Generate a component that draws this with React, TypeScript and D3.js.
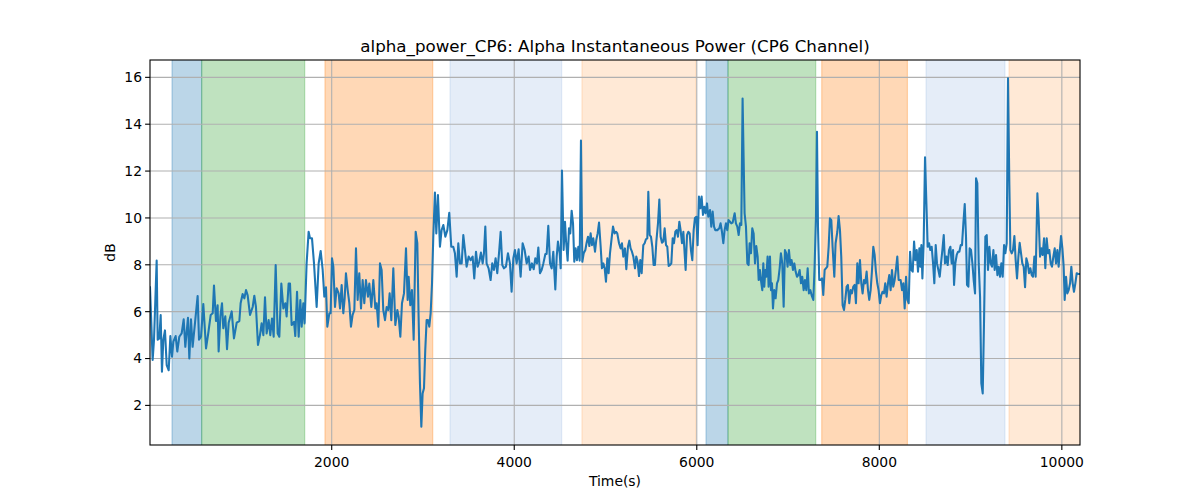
import React from "react";
import * as d3 from "d3";

// ---------- data (time in s, alpha power in dB) ----------
const samplesA: [number, number][] = [
  [9,7.04],[38,3.94],[53,4.8],[82,8.18],[93,4.8],[111,4.86],[126,5.86],[140,3.44],[155,4.8],[173,5.2],
  [192,3.72],[214,3.5],[232,4.96],[250,4.08],[265,4.72],[290,4.96],[308,4.3],[330,4.93],[356,5.07],[378,5.67],
  [396,4.5],[425,5.74],[440,4.0],[458,5.67],[476,4.5],[498,5.36],[531,6.67],[546,4.8],[568,4.93],[593,6.33],
  [623,4.43],[648,5.1],[674,5.86],[696,5.93],[710,7.12],[732,5.6],[750,6.27],[761,4.3],[780,5.8],[798,6.36],
  [812,5.29],[834,5.8],[853,4.4],[871,5.53],[904,6.01],[929,4.86],[959,5.53],[988,5.6],[1002,6.36],[1024,6.75],
  [1043,6.57],[1061,6.92],[1079,6.7],[1105,5.86],[1134,6.2],[1152,6.68],[1170,6.2],[1192,4.58],[1214,5.0],[1232,5.5],
  [1251,5.0],[1269,6.61],[1287,5.07],[1309,5.64],[1327,5.0],[1346,5.71],[1364,4.93],[1386,7.99],[1408,5.07],[1426,4.93],
  [1448,7.2],[1470,6.14],[1492,6.36],[1506,5.8],[1528,7.2],[1543,7.2],[1561,5.43],[1587,5.57],[1601,4.96],[1620,6.85],
  [1638,4.93],[1656,6.5],[1671,5.36],[1689,6.36],[1703,5.5],[1725,8.06],[1747,9.41],[1762,9.13],[1784,9.13],[1806,8.06],
  [1835,6.2],[1857,8.06],[1879,8.59],[1901,7.78],[1919,6.64],[1937,7.04],[1952,5.36],[1974,5.93],[1988,5.93],[2003,8.28],
  [2018,7.92],[2036,6.2],[2054,7.0],[2076,6.78],
];

const samplesB: [number, number][] = [
  [2091,6.14],[2109,7.14],[2127,5.93],[2142,6.57],[2156,7.64],[2175,6.92],[2193,6.36],[2211,5.36],[2229,5.86],[2248,6.07],
  [2266,8.7],[2284,6.5],[2302,7.64],[2321,6.14],[2339,7.35],[2357,6.36],[2375,7.35],[2397,6.64],[2412,7.2],[2434,6.2],
  [2456,7.35],[2478,6.14],[2492,6.36],[2511,5.36],[2529,8.06],[2547,7.78],[2565,6.07],[2584,5.64],[2602,6.2],[2620,6.07],
  [2635,6.78],[2653,5.64],[2675,7.85],[2697,5.43],[2719,6.07],[2733,5.8],[2752,4.93],[2770,6.36],[2792,6.78],[2814,8.7],
  [2832,6.5],[2843,7.49],[2861,6.28],[2879,6.92],[2898,4.8],[2920,9.41],[2938,8.92],[2952,5.8],[2967,2.94],[2982,1.09],
  [2996,2.51],[3011,2.73],[3025,4.36],[3040,5.64],[3055,5.64],[3069,5.36],[3084,5.93],[3099,7.2],[3113,9.2],[3131,11.08],
  [3146,9.34],[3164,10.98],[3186,8.77],[3204,9.48],[3223,9.7],[3245,9.2],[3267,9.48],[3288,10.22],[3310,8.77],[3332,8.77],
  [3350,8.49],[3369,7.49],[3387,8.92],[3405,8.06],[3424,8.06],[3442,9.27],[3460,8.63],[3478,7.92],[3500,8.35],[3522,8.2],
  [3544,8.35],[3562,7.42],[3581,8.56],[3599,7.92],[3617,8.13],[3635,8.52],[3654,8.06],[3668,8.49],[3683,9.63],[3697,8.06],
  [3719,7.85],[3741,7.35],[3759,8.06],[3778,7.78],[3796,8.28],[3814,7.64],[3833,8.49],[3851,9.41],[3869,7.99],[3887,7.85],
  [3909,7.92],[3931,8.49],[3953,8.06],[3971,6.85],[3990,8.28],[4008,8.63],[4026,8.06],[4048,8.66],[4070,7.49],[4092,8.92],
  [4114,8.63],[4136,8.06],[4158,8.35],
];

const samplesC: [number, number][] = [
  [4173,7.78],[4194,8.06],[4213,7.81],[4231,8.28],[4249,8.06],[4264,8.74],[4282,7.64],[4300,7.78],[4319,8.06],[4341,8.46],
  [4355,8.46],[4373,9.66],[4392,8.06],[4410,7.85],[4428,8.56],[4450,6.95],[4465,8.35],[4479,8.99],[4498,8.49],[4509,7.85],
  [4523,12.02],[4541,8.63],[4556,9.84],[4567,9.06],[4585,8.18],[4600,9.56],[4614,9.34],[4629,10.31],[4644,9.77],[4658,8.13],
  [4673,8.7],[4687,8.2],[4702,8.77],[4717,8.18],[4731,13.3],[4746,8.13],[4761,8.49],[4779,8.63],[4793,8.94],[4808,9.2],
  [4823,8.8],[4837,9.34],[4852,8.84],[4866,9.13],[4885,8.56],[4899,9.06],[4914,9.34],[4929,9.8],[4947,8.77],[4961,7.85],
  [4976,8.06],[4991,7.85],[5005,7.28],[5020,8.28],[5034,7.64],[5049,8.49],[5067,9.13],[5082,9.63],[5100,9.34],[5115,9.41],
  [5129,9.34],[5148,8.92],[5166,8.7],[5180,8.92],[5195,8.35],[5213,8.7],[5228,7.81],[5246,8.77],[5261,9.03],[5275,8.7],
  [5290,8.56],[5305,8.35],[5323,7.85],[5337,8.35],[5352,8.13],[5367,7.52],[5381,8.2],[5396,7.64],[5414,8.84],[5429,8.92],
  [5443,9.09],[5458,9.13],[5469,11.12],[5484,9.27],[5498,9.2],[5513,8.77],[5527,7.99],[5542,7.99],[5557,8.99],[5575,9.77],
  [5590,10.79],[5604,9.2],[5619,8.94],[5633,8.99],[5648,9.56],[5663,8.84],[5677,8.77],[5692,7.95],[5706,7.99],[5721,8.06],
  [5736,9.13],[5750,8.92],[5765,9.41],[5779,9.48],[5794,9.2],[5809,9.84],[5823,9.48],[5838,8.92],[5853,9.41],[5867,8.49],
  [5878,7.78],[5893,9.27],[5907,9.41],[5922,9.34],[5936,8.63],[5951,8.2],[5966,9.48],[5980,10.0],[5995,10.05],[6009,8.84],
  [6024,10.91],[6039,10.41],[6053,10.91],[6068,10.13],[6083,10.48],[6097,10.2],[6112,10.62],[6126,10.05],[6145,10.34],[6159,9.63],
  [6174,10.27],[6189,9.63],[6203,9.48],[6225,9.48],[6247,9.56],
];

const samplesD: [number, number][] = [
  [6261,9.77],[6276,9.41],[6291,8.92],[6305,9.48],[6320,9.77],[6334,9.48],[6349,9.91],[6364,9.84],[6378,9.77],[6393,9.8],
  [6415,10.2],[6429,9.77],[6444,9.63],[6459,9.27],[6473,9.77],[6488,9.7],[6502,15.1],[6513,12.6],[6524,10.2],[6539,9.63],
  [6554,8.06],[6568,7.99],[6579,8.92],[6594,8.49],[6608,9.56],[6623,9.34],[6638,8.06],[6652,8.8],[6667,8.35],[6678,7.35],
  [6692,7.78],[6703,7.35],[6718,6.92],[6729,8.06],[6740,7.07],[6751,7.78],[6762,7.49],[6776,8.35],[6787,7.07],[6802,8.35],
  [6813,6.92],[6824,7.21],[6835,6.14],[6849,6.92],[6864,6.57],[6879,7.21],[6893,7.35],[6908,7.85],[6922,8.49],[6937,8.06],
  [6952,6.21],[6966,8.63],[6981,8.49],[6995,7.92],[7010,8.63],[7025,7.99],[7039,8.2],[7054,7.78],[7069,8.06],[7083,7.71],
  [7098,7.49],[7112,7.56],[7127,7.78],[7142,7.21],[7156,7.49],[7171,6.92],[7185,7.35],[7200,6.92],[7215,7.85],[7229,6.78],
  [7244,6.92],[7258,6.71],[7277,6.5],[7291,7.92],[7306,10.05],[7317,13.68],[7328,9.63],[7342,7.35],[7357,7.35],[7372,7.42],
  [7386,6.71],[7401,7.78],[7415,7.85],[7430,7.92],[7445,8.77],[7459,9.98],[7474,9.91],[7488,8.77],[7507,7.49],[7521,8.92],
  [7540,9.41],[7554,10.08],[7569,9.48],[7583,8.35],[7598,6.28],[7613,6.07],[7627,6.5],[7642,7.07],[7656,7.14],[7671,6.36],
  [7686,6.92],[7700,6.78],[7715,7.07],[7730,7.14],[7744,6.36],[7759,8.06],[7773,7.21],[7788,8.2],[7803,7.21],[7817,6.78],
  [7832,7.35],[7846,7.21],[7861,7.71],[7876,6.92],[7890,6.5],[7905,6.92],[7919,7.71],[7934,8.77],[7949,8.42],[7963,7.71],
  [7978,7.21],[7992,6.92],[8007,6.36],[8022,6.71],[8036,6.85],[8051,6.78],[8065,7.21],[8080,6.64],[8095,7.21],[8109,7.56],
  [8124,6.92],[8139,7.78],[8153,7.07],[8168,7.35],[8182,7.78],[8197,8.35],[8212,7.35],
];

const samplesE: [number, number][] = [
  [8234,7.35],[8249,6.92],[8264,7.21],[8278,6.14],[8293,7.49],[8307,6.5],[8322,6.36],[8337,8.56],[8351,7.78],[8366,7.71],
  [8381,8.99],[8395,8.2],[8410,8.63],[8424,7.71],[8439,8.7],[8450,7.92],[8461,8.84],[8472,7.42],[8486,8.92],[8501,12.59],
  [8516,10.62],[8530,8.77],[8545,8.92],[8559,8.63],[8574,8.77],[8589,8.06],[8603,7.21],[8618,8.84],[8632,8.06],[8647,7.78],
  [8662,7.49],[8676,8.06],[8691,8.63],[8706,9.27],[8720,8.06],[8735,8.35],[8749,7.99],[8764,8.63],[8779,8.77],[8793,8.06],
  [8808,8.63],[8819,7.14],[8833,8.06],[8848,8.42],[8863,8.56],[8877,8.56],[8892,8.84],[8906,8.84],[8921,9.77],[8936,10.59],
  [8950,9.2],[8961,7.14],[8976,7.07],[8990,8.7],[9005,8.63],[9020,8.06],[9034,7.35],[9049,6.78],[9060,11.69],[9074,11.48],
  [9089,8.06],[9104,6.64],[9118,2.94],[9133,2.51],[9147,5.5],[9162,9.2],[9177,9.27],[9191,7.78],[9206,8.77],[9220,8.06],
  [9235,7.92],[9250,8.63],[9264,7.78],[9279,8.42],[9294,7.56],[9308,7.92],[9323,7.49],[9337,8.06],[9352,7.49],[9367,8.84],
  [9381,8.49],[9396,8.92],[9410,15.96],[9425,11.41],[9436,8.63],[9451,8.49],[9465,8.63],[9480,9.23],[9494,8.2],[9509,7.42],
  [9524,8.35],[9538,8.94],[9553,8.49],[9567,8.06],[9582,7.92],[9597,7.04],[9611,8.28],[9626,8.06],[9640,7.64],[9655,7.85],
  [9670,7.56],[9684,7.49],[9699,8.35],[9713,7.49],[9732,11.05],[9746,9.98],[9761,8.35],[9776,8.7],[9790,8.42],[9805,9.13],
  [9819,7.85],[9834,9.13],[9849,8.49],[9863,8.63],[9878,8.06],[9892,7.92],[9907,8.35],[9922,8.7],[9936,8.06],[9951,8.63],
  [9965,7.92],[9980,8.7],[9991,9.23],[10006,8.7],[10020,7.92],[10031,6.5],[10046,7.49],[10060,6.78],[10075,6.92],[10090,7.21],
  [10104,7.92],[10119,7.21],[10133,6.85],[10148,7.21],[10163,7.64],[10177,7.61],[10192,7.61],
];

// shaded stage intervals (s)
const spanStarts = [250, 575, 1926, 3296, 4742, 6101, 6342, 7369, 8512, 9421];
const spanEnds = [575, 1704, 3107, 4520, 5991, 6342, 7303, 8308, 9377, 10260];
const spanKinds = ["blue", "green", "orange", "lightblue", "lightorange", "blue", "green", "orange", "lightblue", "lightorange"];

const xTicks = [2000, 4000, 6000, 8000, 10000];
const yTicks = [2, 4, 6, 8, 10, 12, 14, 16];
const xDomain: [number, number] = [9, 10199];
const yDomain: [number, number] = [0.31, 16.74];

const TITLE = "alpha_power_CP6: Alpha Instantaneous Power (CP6 Channel)";
const XLABEL = "Time(s)";
const YLABEL = "dB";

const spanStyle: Record<string, { fill: string; opacity: number }> = {
  blue: { fill: "#1f77b4", opacity: 0.3 },
  green: { fill: "#2ca02c", opacity: 0.3 },
  orange: { fill: "#ff7f0e", opacity: 0.3 },
  lightblue: { fill: "#6f9bd6", opacity: 0.18 },
  lightorange: { fill: "#fd9a45", opacity: 0.22 },
};

export default function App() {
  const W = 1200, H = 500;
  const L = 150, R = 1080, T = 60, B = 445;
  const x = d3.scaleLinear().domain(xDomain).range([L, R]);
  const y = d3.scaleLinear().domain(yDomain).range([B, T]);
  const data = [...samplesA, ...samplesB, ...samplesC, ...samplesD, ...samplesE];
  const line = d3.line<[number, number]>().x((d) => x(d[0])).y((d) => y(d[1]));
  const font = "DejaVu Sans, sans-serif";

  return (
    <svg width={W} height={H} style={{ position: "absolute", left: 0, top: 0, background: "#fff" }} fontFamily={font}>
      <defs>
        <clipPath id="plotClip">
          <rect x={L} y={T} width={R - L} height={B - T} />
        </clipPath>
      </defs>
      <rect x={0} y={0} width={W} height={H} fill="#fff" />
      <g clipPath="url(#plotClip)">
        {spanStarts.map((s, i) => {
          const st = spanStyle[spanKinds[i]];
          const x0 = x(s), x1 = Math.min(x(spanEnds[i]), R + 2);
          return (
            <rect key={i} x={x0} y={T - 2} width={x1 - x0} height={B - T + 4}
              fill={st.fill} fillOpacity={st.opacity} stroke={st.fill} strokeOpacity={st.opacity} strokeWidth={1.2} />
          );
        })}
        {xTicks.map((t) => (
          <line key={"gx" + t} x1={x(t)} x2={x(t)} y1={T} y2={B} stroke="#b0b0b0" strokeWidth={1.1} />
        ))}
        {yTicks.map((t) => (
          <line key={"gy" + t} x1={L} x2={R} y1={y(t)} y2={y(t)} stroke="#b0b0b0" strokeWidth={1.1} />
        ))}
        <path d={line(data) || ""} fill="none" stroke="#1f77b4" strokeWidth={2.08} strokeLinejoin="round" strokeLinecap="square" />
      </g>
      <rect x={L} y={T} width={R - L} height={B - T} fill="none" stroke="#000" strokeWidth={1.1} />
      {xTicks.map((t) => (
        <g key={"tx" + t}>
          <line x1={x(t)} x2={x(t)} y1={B} y2={B + 4.9} stroke="#000" strokeWidth={1.1} />
          <text x={x(t)} y={B + 22} textAnchor="middle" fontSize={13.9} fill="#000">{t}</text>
        </g>
      ))}
      {yTicks.map((t) => (
        <g key={"ty" + t}>
          <line x1={L - 4.9} x2={L} y1={y(t)} y2={y(t)} stroke="#000" strokeWidth={1.1} />
          <text x={L - 8} y={y(t)} dy="0.35em" textAnchor="end" fontSize={13.9} fill="#000">{t}</text>
        </g>
      ))}
      <text x={(L + R) / 2} y={52} textAnchor="middle" fontSize={16.7} fill="#000">{TITLE}</text>
      <text x={(L + R) / 2} y={486} textAnchor="middle" fontSize={13.9} fill="#000">{XLABEL}</text>
      <text transform={`translate(115, ${(T + B) / 2}) rotate(-90)`} textAnchor="middle" fontSize={13.9} fill="#000">{YLABEL}</text>
    </svg>
  );
}
